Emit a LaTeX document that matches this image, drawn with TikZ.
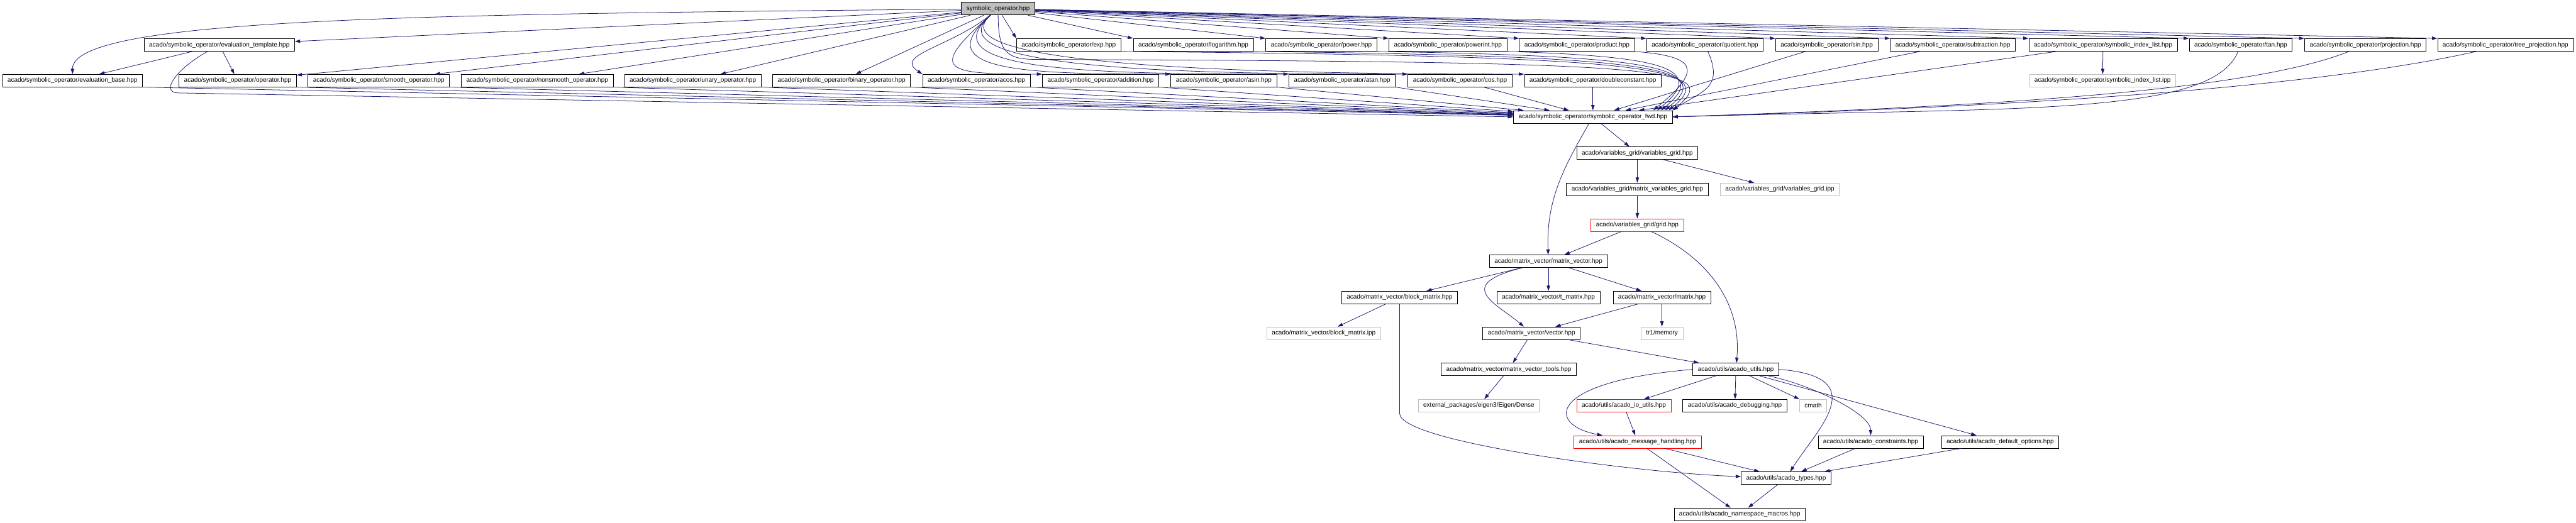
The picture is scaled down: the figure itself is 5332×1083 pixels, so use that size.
\documentclass[tikz,border=0pt]{standalone}
\usepackage{fontspec}
\newfontfamily\dotfont{Liberation Sans}
\usepackage{tikz}
\usetikzlibrary{arrows.meta}
\definecolor{edgeblue}{HTML}{191970}
\definecolor{rootgray}{HTML}{BFBFBF}
\definecolor{extgray}{HTML}{BFBFBF}
\definecolor{warnred}{HTML}{FF0000}

\begin{document}
\begin{tikzpicture}[x=1pt, y=-1pt, >={Triangle[length=11pt,width=7pt]},
  file/.style={draw=black, fill=white, line width=1pt, font=\dotfont\fontsize{13}{15}\selectfont,
    inner xsep=10.5pt, inner ysep=0pt, minimum height=26pt},
  ext/.style={file, draw=extgray},
  warn/.style={file, draw=warnred},
  main/.style={file, fill=rootgray},
  dep/.style={->, edgeblue, line width=1pt}]
  \useasboundingbox (0,0) rectangle (5332,1083);

  % header and the files it pulls in
  \node[main] (root) at (2066,18) {symbolic\_operator.hpp};
  \node[file] (evtmpl) at (454,93) {acado/symbolic\_operator/evaluation\_template.hpp};
  \node[file] (opexp) at (2212,93) {acado/symbolic\_operator/exp.hpp};
  \node[file] (oplog) at (2470,93) {acado/symbolic\_operator/logarithm.hpp};
  \node[file] (power) at (2735,93) {acado/symbolic\_operator/power.hpp};
  \node[file] (powint) at (2997,93) {acado/symbolic\_operator/powerint.hpp};
  \node[file] (product) at (3264,93) {acado/symbolic\_operator/product.hpp};
  \node[file] (quot) at (3529,93) {acado/symbolic\_operator/quotient.hpp};
  \node[file] (opsin) at (3781,93) {acado/symbolic\_operator/sin.hpp};
  \node[file] (subtr) at (4042,93) {acado/symbolic\_operator/subtraction.hpp};
  \node[file] (idxlist) at (4353,93) {acado/symbolic\_operator/symbolic\_index\_list.hpp};
  \node[file] (optan) at (4638,93) {acado/symbolic\_operator/tan.hpp};
  \node[file] (proj) at (4896,93) {acado/symbolic\_operator/projection.hpp};
  \node[file] (treeproj) at (5186,93) {acado/symbolic\_operator/tree\_projection.hpp};

  \node[file] (evbase) at (150,167) {acado/symbolic\_operator/evaluation\_base.hpp};
  \node[file] (oper) at (492,167) {acado/symbolic\_operator/operator.hpp};
  \node[file] (smooth) at (784,167) {acado/symbolic\_operator/smooth\_operator.hpp};
  \node[file] (nonsmooth) at (1112,167) {acado/symbolic\_operator/nonsmooth\_operator.hpp};
  \node[file] (unary) at (1434,167) {acado/symbolic\_operator/unary\_operator.hpp};
  \node[file] (binary) at (1742,167) {acado/symbolic\_operator/binary\_operator.hpp};
  \node[file] (acos) at (2021,167) {acado/symbolic\_operator/acos.hpp};
  \node[file] (addit) at (2278,167) {acado/symbolic\_operator/addition.hpp};
  \node[file] (asin) at (2533,167) {acado/symbolic\_operator/asin.hpp};
  \node[file] (atan) at (2778,167) {acado/symbolic\_operator/atan.hpp};
  \node[file] (opcos) at (3022,167) {acado/symbolic\_operator/cos.hpp};
  \node[file] (dconst) at (3297,167) {acado/symbolic\_operator/doubleconstant.hpp};
  \node[ext] (idxipp) at (4352,167) {acado/symbolic\_operator/symbolic\_index\_list.ipp};

  % the shared forward header and below
  \node[file] (fwd) at (3297,242) {acado/symbolic\_operator/symbolic\_operator\_fwd.hpp};
  \node[file] (vgrid) at (3389,317) {acado/variables\_grid/variables\_grid.hpp};
  \node[file] (mvgrid) at (3389,392) {acado/variables\_grid/matrix\_variables\_grid.hpp};
  \node[ext] (vgridipp) at (3684,392) {acado/variables\_grid/variables\_grid.ipp};
  \node[warn] (grid) at (3389,466) {acado/variables\_grid/grid.hpp};
  \node[file] (mv) at (3205,541) {acado/matrix\_vector/matrix\_vector.hpp};
  \node[file] (blockm) at (2897,616) {acado/matrix\_vector/block\_matrix.hpp};
  \node[file] (tm) at (3205,616) {acado/matrix\_vector/t\_matrix.hpp};
  \node[file] (matrix) at (3440,616) {acado/matrix\_vector/matrix.hpp};
  \node[ext] (blockipp) at (2740,690) {acado/matrix\_vector/block\_matrix.ipp};
  \node[file] (vector) at (3170,690) {acado/matrix\_vector/vector.hpp};
  \node[ext] (mem) at (3440,690) {tr1/memory};
  \node[file] (mvtools) at (3123,765) {acado/matrix\_vector/matrix\_vector\_tools.hpp};
  \node[file] (utils) at (3593,765) {acado/utils/acado\_utils.hpp};
  \node[ext] (eigen) at (3061,840) {external\_packages/eigen3/Eigen/Dense};
  \node[warn] (ioutils) at (3361,840) {acado/utils/acado\_io\_utils.hpp};
  \node[file] (debug) at (3591,840) {acado/utils/acado\_debugging.hpp};
  \node[ext] (cmath) at (3753,840) {cmath};
  \node[warn] (msg) at (3390,915) {acado/utils/acado\_message\_handling.hpp};
  \node[file] (constr) at (3872,915) {acado/utils/acado\_constraints.hpp};
  \node[file] (defopt) at (4140,915) {acado/utils/acado\_default\_options.hpp};
  \node[file] (types) at (3697,990) {acado/utils/acado\_types.hpp};
  \node[file] (macros) at (3601,1065) {acado/utils/acado\_namespace\_macros.hpp};

  % edges out of the header
  \draw[dep] (root) -- (evtmpl);
  \draw[dep] (root) .. controls (900,30) and (150,35) .. (evbase);
  \foreach \n in {oper,smooth,nonsmooth,unary,binary}
    \draw[dep] (root) -- (\n);
  \foreach \n in {opexp,oplog,power,powint,product,quot,opsin,subtr,idxlist,optan,proj,treeproj}
    \draw[dep] (root) -- (\n.north west);
  \draw[dep] (root) .. controls +(-100,80) and +(-60,-40) .. (acos.north west);
  \draw[dep] (root) .. controls +(-150,130) and +(-200,0) .. (addit.north west);
  \draw[dep] (root) .. controls +(-150,130) and +(-300,0) .. (asin.north west);
  \foreach \n in {atan,opcos,dconst}
    \draw[dep] (root) .. controls +(-150,130) and +(-400,0) .. (\n.north west);
  \draw[dep] (root) .. controls +(0,93) and +(-60,0) .. ++(80,105)
    .. controls +(1300,5) and +(110,-90) .. (fwd.north east);

  % into the forward header
  \draw[dep] (evtmpl) -- (evbase);
  \draw[dep] (evtmpl) -- (oper);
  \draw[dep] (evtmpl) .. controls +(-90,50) and +(-40,0) .. ([yshift=-12pt]oper.south west) -- (fwd.west);
  \foreach \n in {evbase,oper,smooth,nonsmooth,unary,binary,acos,addit,asin,atan}
    \draw[dep] (\n.south east) -- (fwd);
  \draw[dep] (opcos) -- (fwd);
  \draw[dep] (dconst) -- (fwd);
  \draw[dep] (opexp.south east) .. controls +(1100,10) and +(110,-90) .. ([xshift=-8pt]fwd.north east);
  \draw[dep] (oplog.south east) .. controls +(830,10) and +(110,-90) .. ([xshift=-16pt]fwd.north east);
  \draw[dep] (power.south east) .. controls +(580,10) and +(110,-90) .. ([xshift=-24pt]fwd.north east);
  \draw[dep] (powint.south east) .. controls +(310,10) and +(110,-90) .. ([xshift=-32pt]fwd.north east);
  \draw[dep] (product.south east) .. controls +(120,10) and +(110,-90) .. ([xshift=-40pt]fwd.north east);
  \draw[dep] (quot) .. controls +(40,90) and +(60,-40) .. (fwd.north east);
  \foreach \n in {opsin,subtr,idxlist}
    \draw[dep] (\n) -- (fwd);
  \draw[dep] (optan) .. controls +(-60,150) and +(700,-20) .. (fwd.east);
  \draw[dep] (proj) .. controls +(-250,100) and +(600,-20) .. (fwd.east);
  \draw[dep] (treeproj) .. controls +(-400,90) and +(700,-20) .. (fwd.east);
  \draw[dep] (idxlist) -- (idxipp);

  % lower part
  \draw[dep] (fwd) -- (vgrid);
  \draw[dep] (fwd) to[out=-120,in=92] (mv);
  \draw[dep] (vgrid) -- (mvgrid);
  \draw[dep] (vgrid) -- (vgridipp);
  \draw[dep] (mvgrid) -- (grid);
  \draw[dep] (grid) -- (mv);
  \draw[dep] (grid) to[out=-25,in=85] (utils);
  \foreach \n in {blockm,tm,matrix}
    \draw[dep] (mv) -- (\n);
  \draw[dep] (mv) .. controls +(-200,50) and +(-70,-60) .. (vector);
  \draw[dep] (blockm) -- (blockipp);
  \draw[dep] (blockm) -- ++(0,240) .. controls +(0,60) and +(-300,-10) .. (types);
  \draw[dep] (matrix) -- (vector);
  \draw[dep] (matrix) -- (mem);
  \draw[dep] (vector) -- (mvtools);
  \draw[dep] (vector) -- (utils);
  \draw[dep] (mvtools) -- (eigen);
  \foreach \n in {ioutils,debug,cmath,defopt}
    \draw[dep] (utils) -- (\n);
  \draw[dep] (utils.west) .. controls +(-303,25) and +(-190,-35) .. (msg);
  \draw[dep] (utils.east) .. controls +(198,15) and +(63,-100) .. (types);
  \draw[dep] (utils) .. controls +(150,30) and +(0,-60) .. (constr);
  \draw[dep] (ioutils) -- (msg);
  \draw[dep] (msg) -- (types);
  \draw[dep] (msg) -- (macros);
  \draw[dep] (constr) -- (types);
  \draw[dep] (defopt) -- (types);
  \draw[dep] (types) -- (macros);
\end{tikzpicture}
\end{document}
